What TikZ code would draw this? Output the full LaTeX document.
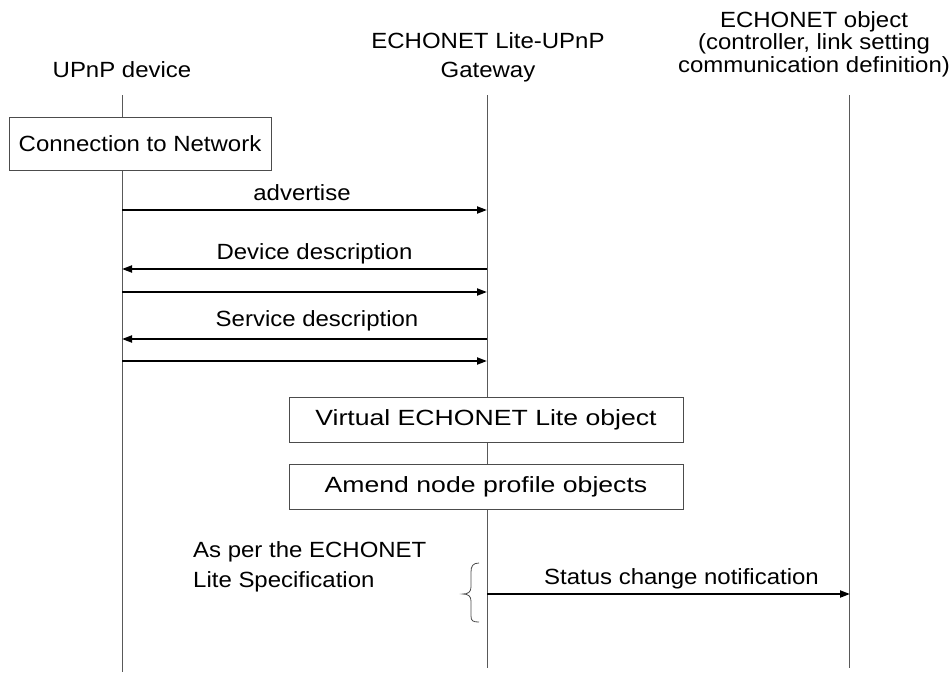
\documentclass[tikz,border=0pt]{standalone}
\usepackage{fontspec}
\setmainfont{Liberation Sans}[FakeStretch=1.09]
\newfontfamily\boxfont{Liberation Sans}[FakeStretch=1.21]
\usetikzlibrary{arrows.meta}
\begin{document}
\begin{tikzpicture}[x=1pt,y=-1pt,
  txt/.style={inner sep=0pt, font=\fontsize{22}{28}\selectfont},
  life/.style={draw=black!65, line width=0.9pt},
  msg/.style={line width=2pt, -{Triangle[length=10pt,width=7pt]}},
  procbox/.style={draw=black!70, fill=white, line width=0.9pt, inner sep=0pt},
  brc/.style={draw=black!70, line width=0.8pt},
]
\useasboundingbox (0,0) rectangle (949,672);

% headers
\node[txt, anchor=base, align=center] (hU) at (122,77) {UPnP device};
\node[txt, anchor=base, align=center, font=\fontsize{22}{28.5}\selectfont] (hG) at (488,77) {ECHONET Lite-UPnP\\Gateway};
\node[txt, anchor=base, align=center, font=\fontsize{22}{22.5}\selectfont] (hE) at (814,72) {ECHONET object\\(controller, link setting\\communication definition)};

% lifeline end points
\coordinate (uTop) at (122,95);
\coordinate (uBot) at (122,672);
\coordinate (gTop) at (487,95);
\coordinate (gBot) at (487,668);
\coordinate (eTop) at (849,95);
\coordinate (eBot) at (849,668);

\draw[life] (uTop) -- (uBot);
\draw[life] (gTop) -- (gBot);
\draw[life] (eTop) -- (eBot);

% process boxes
\node[procbox, minimum width=262pt, minimum height=53pt, font=\fontsize{22}{28}\selectfont] (conn) at (140,143.5) {Connection to Network};
\node[procbox, minimum width=394pt, minimum height=45pt, font=\boxfont\fontsize{22}{28}\selectfont] (virt) at (486,419.5) {Virtual ECHONET Lite object};
\node[procbox, minimum width=394pt, minimum height=45pt, font=\boxfont\fontsize{22}{28}\selectfont] (amend) at (486,486.5) {Amend node profile objects};

% message end points
\coordinate (u1) at (122,210); \coordinate (g1) at (487,210);
\coordinate (u2) at (122,269); \coordinate (g2) at (487,269);
\coordinate (u3) at (122,292); \coordinate (g3) at (487,292);
\coordinate (u4) at (122,339); \coordinate (g4) at (487,339);
\coordinate (u5) at (122,361); \coordinate (g5) at (487,361);
\coordinate (g6) at (487,594); \coordinate (e6) at (850,594);

\draw[msg] (u1) -- (g1);
\draw[msg] (g2) -- (u2);
\draw[msg] (u3) -- (g3);
\draw[msg] (g4) -- (u4);
\draw[msg] (u5) -- (g5);
\draw[msg] (g6) -- (e6);

% message labels
\node[txt, anchor=base] (l1) at (302,200) {advertise};
\node[txt, anchor=base] (l2) at (314.5,259) {Device description};
\node[txt, anchor=base] (l4) at (317,326) {Service description};
\node[txt, anchor=base] (l6) at (681.5,584) {Status change notification};

% note with brace
\node[txt, anchor=base west, align=left, font=\fontsize{22}{30}\selectfont] (note) at (193,587) {As per the ECHONET\\Lite Specification};
\draw[brc] (479,563) .. controls (473,563) and (471,566) .. (471,572)
  -- (471,587) .. controls (471,592) and (468,594) .. (463,594)
  .. controls (468,594) and (471,596) .. (471,601)
  -- (471,616) .. controls (471,621) and (473,622) .. (479,622);
\end{tikzpicture}
\end{document}
